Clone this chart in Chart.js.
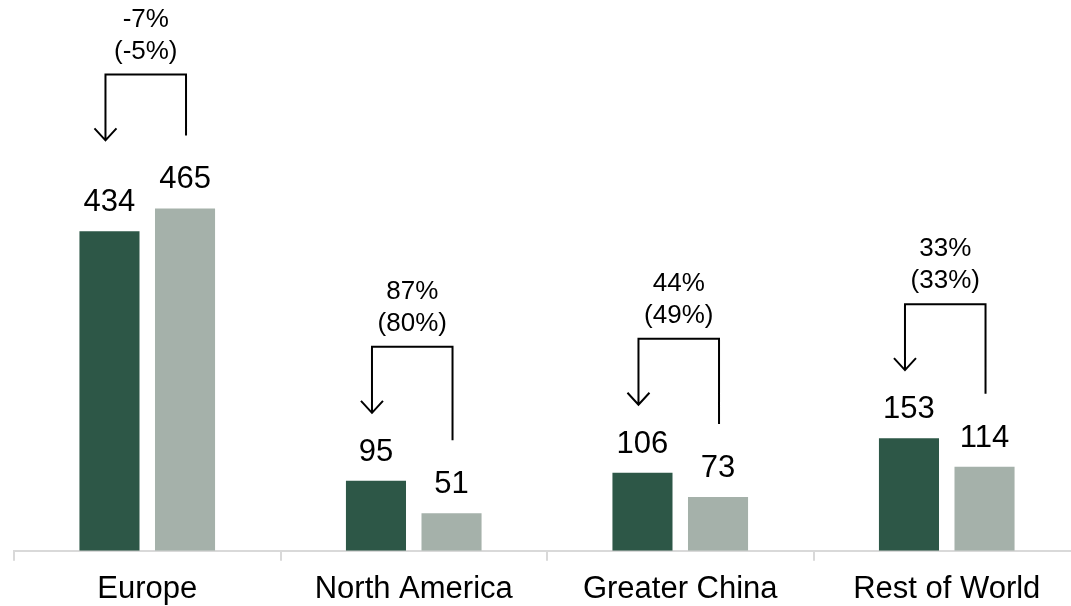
<!DOCTYPE html>
<html>
<head>
<meta charset="utf-8">
<script src="https://cdn.jsdelivr.net/npm/chart.js@4/dist/chart.umd.min.js"></script>
<style>
  html, body { margin: 0; padding: 0; overflow: hidden; background: #fff; }
  #wrap { width: 1080px; height: 618px; }
</style>
</head>
<body>
<div id="wrap"><canvas id="myChart" width="1080" height="618"></canvas></div>
<script>
// data
const regions = ['Europe', 'North America', 'Greater China', 'Rest of World'];
const currentYear = [434, 95, 106, 153];
const previousYear = [465, 51, 73, 114];
const growth = ['-7%', '87%', '44%', '33%'];
const growthConstCurrency = ['(-5%)', '(80%)', '(49%)', '(33%)'];

const FONT = '"Liberation Sans", Arial, sans-serif';

// labels above bars + change brackets
const annotate = {
    id: 'annotate',
    afterDatasetsDraw(chart) {
        const ctx = chart.ctx;
        const dark = chart.getDatasetMeta(0).data;
        const light = chart.getDatasetMeta(1).data;
        ctx.save();
        ctx.fillStyle = '#000';
        ctx.textAlign = 'center';
        ctx.textBaseline = 'alphabetic';
        ctx.font = '31px ' + FONT;
        chart.data.datasets.forEach((ds, i) => {
            chart.getDatasetMeta(i).data.forEach((bar, j) => {
                ctx.fillText(ds.data[j], bar.x, bar.y - 20);
            });
        });

        ctx.strokeStyle = '#000';
        ctx.lineWidth = 2;
        ctx.lineJoin = 'miter';
        ctx.font = '26px ' + FONT;
        ctx.textBaseline = 'middle';
        regions.forEach((r, j) => {
            let a = dark[j], b = light[j];
            let x1 = a.x - 4, x2 = b.x + 1;
            let top = Math.min(a.y, b.y) - 134;
            let tip = top + 66;
            let rightEnd = b.y - 73;
            ctx.beginPath();
            ctx.moveTo(x2, rightEnd);
            ctx.lineTo(x2, top);
            ctx.lineTo(x1, top);
            ctx.lineTo(x1, tip);
            ctx.moveTo(x1 - 11, tip - 12);
            ctx.lineTo(x1, tip);
            ctx.lineTo(x1 + 11, tip - 12);
            ctx.stroke();
            let cx = (x1 + x2) / 2;
            ctx.fillText(growth[j], cx, top - 55);
            ctx.fillText(growthConstCurrency[j], cx, top - 23);
        });
        ctx.restore();
    }
};

new Chart(document.getElementById('myChart'), {
    type: 'bar',
    data: {
        labels: regions,
        datasets: [
            { data: currentYear, backgroundColor: '#2D5747' },
            { data: previousYear, backgroundColor: '#A5B1AA' }
        ]
    },
    options: {
        responsive: false,
        animation: false,
        layout: { padding: { left: 14, right: 0, top: 0, bottom: 0 } },
        datasets: { bar: { categoryPercentage: 0.567, barPercentage: 0.795 } },
        plugins: { legend: { display: false }, tooltip: { enabled: false } },
        scales: {
            x: {
                grid: { drawOnChartArea: false, offset: true, tickLength: 10, color: '#D9D9D9', lineWidth: 2 },
                border: { color: '#D9D9D9', width: 2 },
                ticks: { color: '#000', padding: 10, font: { family: FONT, size: 31 } }
            },
            y: { display: false, min: 0, max: 748 }
        }
    },
    plugins: [annotate]
});
</script>
</body>
</html>
